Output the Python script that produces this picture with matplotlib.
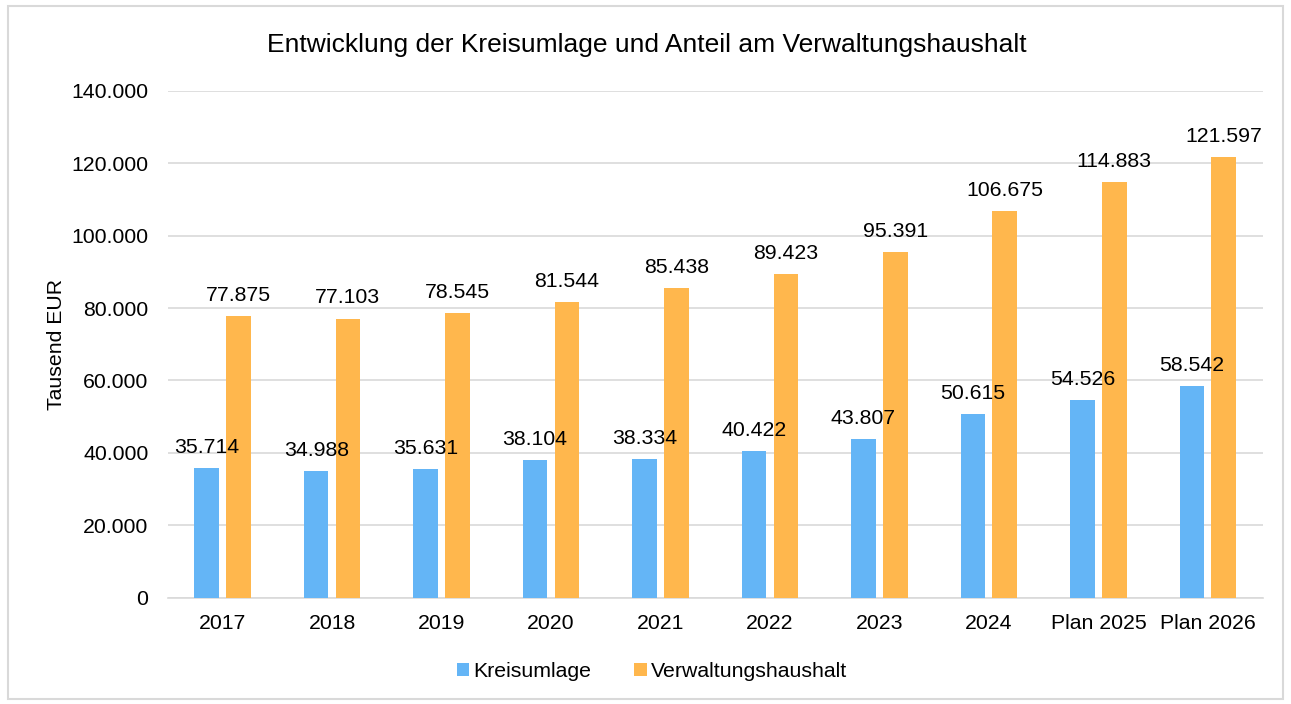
import matplotlib.pyplot as plt
import numpy as np
from matplotlib.patches import Rectangle

plt.rcParams['font.family'] = ['Liberation Sans', 'DejaVu Sans']

# Daten
jahre = ['2017', '2018', '2019', '2020', '2021', '2022', '2023', '2024', 'Plan 2025', 'Plan 2026']
kreisumlage = [35714, 34988, 35631, 38104, 38334, 40422, 43807, 50615, 54526, 58542]
verwaltungshaushalt = [77875, 77103, 78545, 81544, 85438, 89423, 95391, 106675, 114883, 121597]
yticks = [0, 20000, 40000, 60000, 80000, 100000, 120000, 140000]

blau = '#64b5f6'
orange = '#ffb74d'
fs = 15.3

def fmt(v):
    return '{:,}'.format(v).replace(',', '.')

fig = plt.figure(figsize=(12.91, 7.04), dpi=100)
ax = fig.add_axes([0.130, 0.151, 0.848, 0.720])

x = np.arange(len(jahre))
b = 0.225
off = 0.145
r1 = ax.bar(x - off, kreisumlage, b, color=blau, label='Kreisumlage', zorder=3)
r2 = ax.bar(x + off, verwaltungshaushalt, b, color=orange, label='Verwaltungshaushalt', zorder=3)

for rect, v in zip(r1, kreisumlage):
    ax.annotate(fmt(v), (rect.get_x() + rect.get_width() / 2, v), xytext=(0, 8),
                textcoords='offset points', ha='center', va='bottom', fontsize=fs, zorder=4)
for rect, v in zip(r2, verwaltungshaushalt):
    ax.annotate(fmt(v), (rect.get_x() + rect.get_width() / 2, v), xytext=(0, 8),
                textcoords='offset points', ha='center', va='bottom', fontsize=fs, zorder=4)

ax.set_xlim(-0.5, len(jahre) - 0.5)
ax.set_ylim(0, 140000)
ax.set_yticks(yticks)
ax.set_yticklabels([fmt(t) for t in yticks])
ax.set_xticks(x)
ax.set_xticklabels(jahre)
ax.tick_params(axis='y', length=0, labelsize=fs, pad=14)
ax.tick_params(axis='x', length=0, labelsize=fs, pad=12)
ax.grid(axis='y', color='#d9d9d9', linewidth=1.2, zorder=0)
for s in ['top', 'right', 'left']:
    ax.spines[s].set_visible(False)
ax.spines['bottom'].set_color('#d9d9d9')
ax.spines['bottom'].set_linewidth(1.2)

ax.set_ylabel('Tausend EUR', fontsize=fs, labelpad=4)
fig.text(0.501, 0.936, 'Entwicklung der Kreisumlage und Anteil am Verwaltungshaushalt',
         ha='center', va='center', fontsize=19)

fig.legend(loc='center', bbox_to_anchor=(0.505, 0.046), ncol=2, frameon=False,
           fontsize=fs, handlelength=0.6, handleheight=0.6, columnspacing=2.0, handletextpad=0.2)

# Rahmen
fig.patches.append(Rectangle((0.006, 0.007), 0.988, 0.985, transform=fig.transFigure,
                             fill=False, edgecolor='#d9d9d9', linewidth=1.5))

plt.savefig('out.png', dpi=100)
